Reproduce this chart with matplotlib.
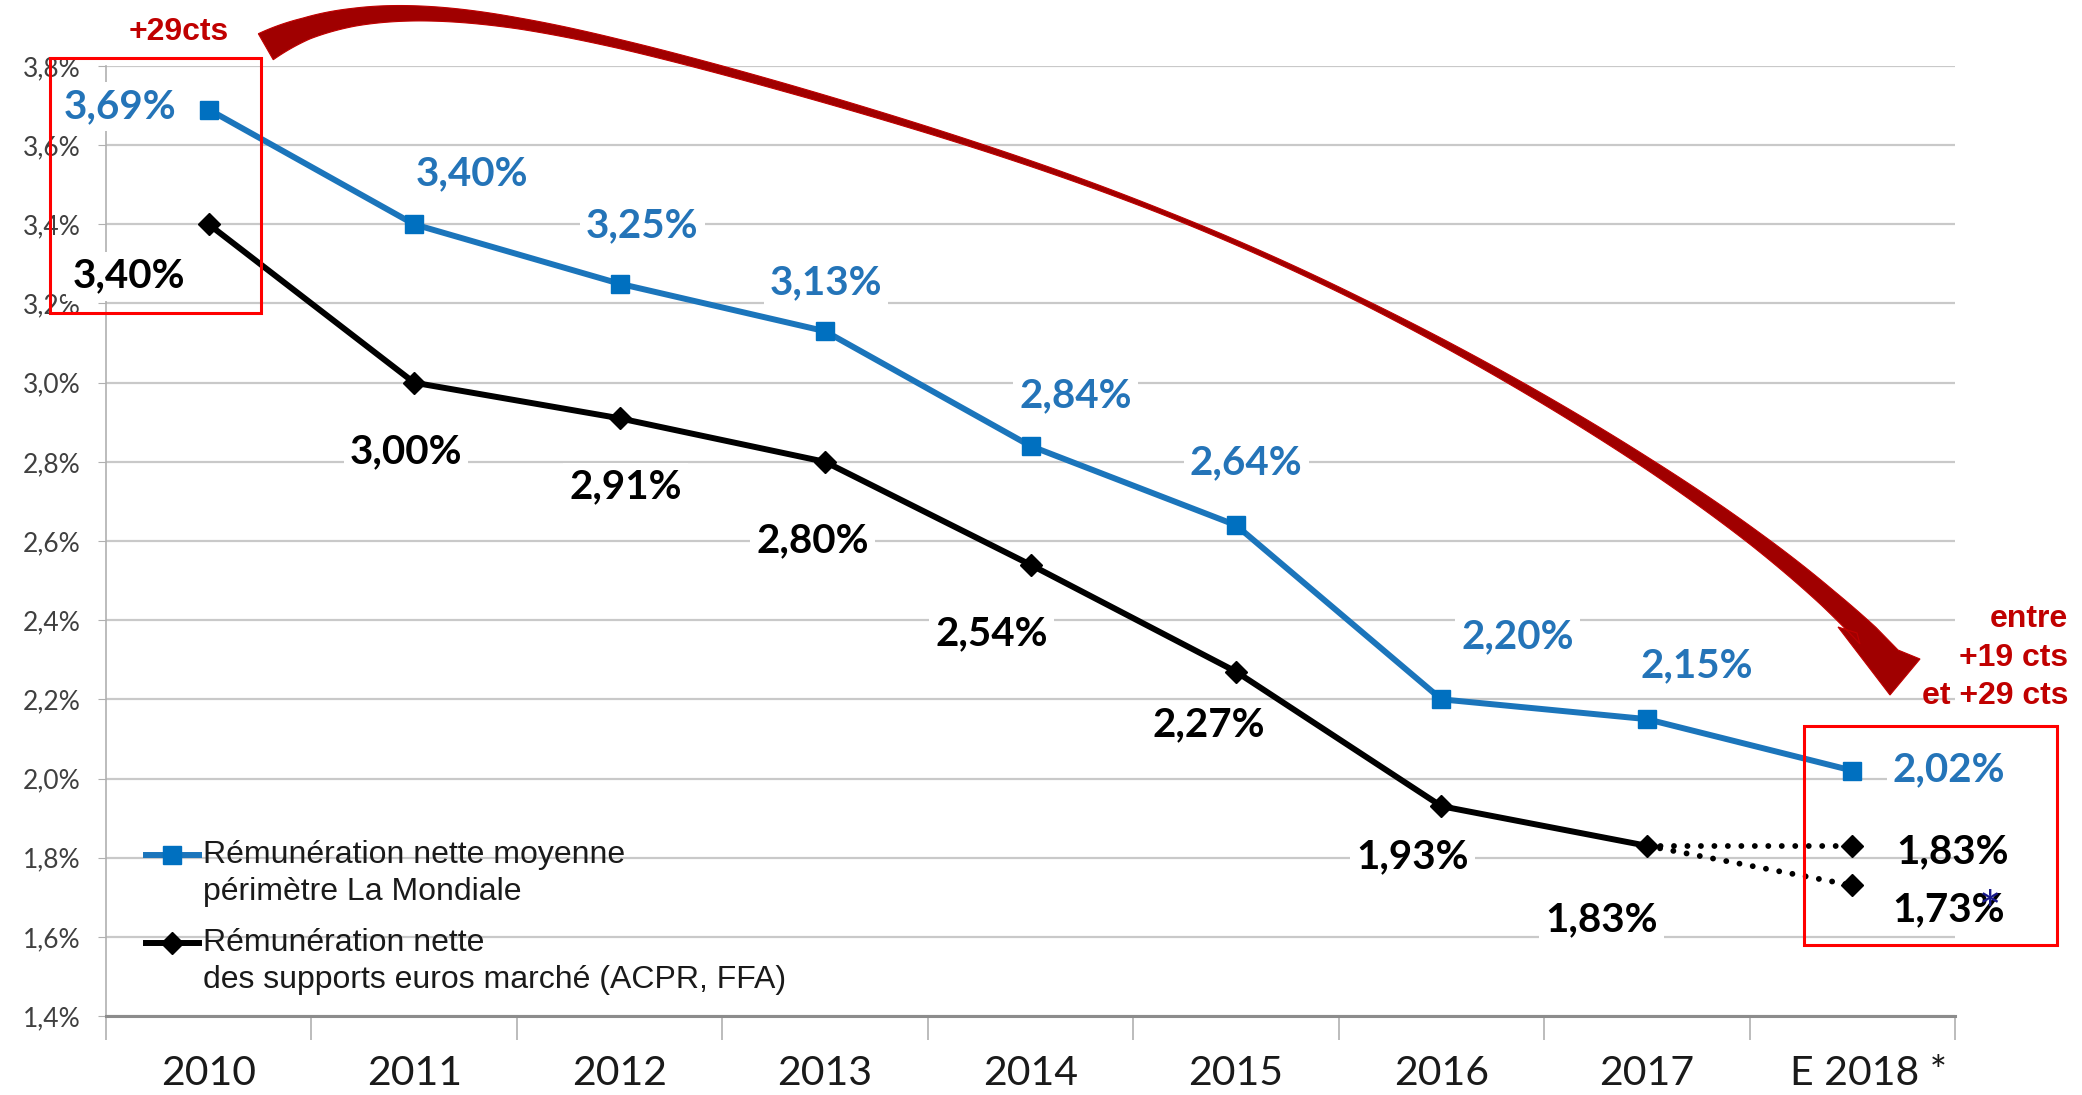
import numpy as np
import matplotlib
matplotlib.use("Agg")
import matplotlib.pyplot as plt
from matplotlib.transforms import Affine2D, ScaledTranslation
from matplotlib.patches import Polygon, Rectangle
from matplotlib.lines import Line2D

# ---------------- data ----------------
categories = ["2010", "2011", "2012", "2013", "2014", "2015", "2016", "2017", "E 2018 *"]
la_mondiale = [3.69, 3.40, 3.25, 3.13, 2.84, 2.64, 2.20, 2.15, 2.02]
marche = [3.40, 3.00, 2.91, 2.80, 2.54, 2.27, 1.93, 1.83]
marche_2018_scenarios = [1.83, 1.73]
y_ticks = [1.4, 1.6, 1.8, 2.0, 2.2, 2.4, 2.6, 2.8, 3.0, 3.2, 3.4, 3.6, 3.8]
y_tick_labels = ["1,4%", "1,6%", "1,8%", "2,0%", "2,2%", "2,4%", "2,6%",
                 "2,8%", "3,0%", "3,2%", "3,4%", "3,6%", "3,8%"]
legend_labels = ["Rémunération nette moyenne\npérimètre La Mondiale",
                 "Rémunération nette\ndes supports euros marché (ACPR, FFA)"]
callout_left = "+29cts"
callout_right = ["entre", "+19 cts", "et +29 cts"]

# ---------------- layout (label offsets in data units) ----------------
blue_label_off = [(-0.43, 0.008), (0.28, 0.127), (0.11, 0.147), (0.005, 0.122),
                  (0.22, 0.127), (0.05, 0.159), (0.37, 0.157), (0.245, 0.136),
                  (0.47, 0.001)]
black_label_off = [(-0.39, -0.131), (-0.04, -0.174), (0.03, -0.174), (-0.06, -0.199),
                   (-0.19, -0.174), (-0.13, -0.135), (-0.14, -0.127), (-0.22, -0.188)]
scen_label_off = [(0.49, -0.014), (0.47, -0.061)]

# arrow decoration (figure pixels from top-left): traced centre line + band width
arrow_center = [(268, 51), (303, 23), (353, 15), (420, 16), (520, 25), (620, 46),
                (783, 84), (974, 145), (1165, 213), (1362, 303), (1515, 382),
                (1648, 462), (1756, 540), (1827, 600), (1868, 634)]
arrow_width = [30, 22, 18, 15, 11, 9, 8, 6, 4.5, 5, 8, 11, 15, 19, 23]
arrow_head = [(1898, 650), (1920, 659), (1890, 695), (1838, 627), (1857, 633)]

BLUE_LINE = "#1b75bb"
BLUE_MARK = "#0070c0"
BLUE_TEXT = "#2474b8"
DARK_RED = "#c00000"

W, H = 2082, 1095
fig = plt.figure(figsize=(W / 100, H / 100), dpi=100)
fig.patch.set_facecolor("white")
ax = fig.add_axes([106 / W, 1 - 1016 / H, (1955 - 106) / W, (1016 - 66) / H])
T = Affine2D().scale(1 / W, -1 / H).translate(0, 1) + fig.transFigure

def fmt(v):
    return f"{v:.2f}".replace(".", ",") + "%"

x = np.arange(len(categories))
ax.set_xlim(-0.5, len(categories) - 0.5)
ax.set_ylim(y_ticks[0], y_ticks[-1])

# axes styling
ax.set_yticks(y_ticks)
ax.set_yticklabels(y_tick_labels)
ax.yaxis.grid(True, color="#c9c9c9", lw=1.6, zorder=0)
ax.set_axisbelow(True)
for s in ["top", "right"]:
    ax.spines[s].set_visible(False)
ax.spines["left"].set_color("#b0b0b0")
ax.spines["left"].set_linewidth(1.2)
ax.spines["bottom"].set_color("#8c8c8c")
ax.spines["bottom"].set_linewidth(2.2)
ax.tick_params(axis="y", length=6, color="#b0b0b0", pad=12, labelsize=19,
               labelcolor="#404040")
for t in ax.get_yticklabels():
    t.set_family("Lato")
ax.set_xticks(x)
ax.set_xticklabels(categories, fontsize=29.5, family="Lato", color="#1a1a1a")
ax.tick_params(axis="x", which="major", length=0, pad=28)
ax.set_xticks(np.arange(-0.5, len(categories), 1.0), minor=True)
ax.tick_params(axis="x", which="minor", length=17, color="#b0b0b0", width=1.2)
last = ax.get_xticklabels()[-1]
last.set_transform(last.get_transform() + ScaledTranslation(0.16, 0, fig.dpi_scale_trans))

# series
ax.plot(x, la_mondiale, color=BLUE_LINE, lw=4.3, marker="s", ms=13,
        mfc=BLUE_MARK, mec=BLUE_MARK, zorder=5)
ax.plot(x[:len(marche)], marche, color="black", lw=4.3, marker="D", ms=11, zorder=5)
for v in marche_2018_scenarios:
    ax.plot([x[len(marche) - 1], x[-1]], [marche[-1], v], color="black", lw=4.2,
            ls=(0, (0.01, 2.3)), dash_capstyle="round", zorder=4)
    ax.plot([x[-1]], [v], color="black", marker="D", ms=11, zorder=5)

box = dict(boxstyle="square,pad=0.15", fc="white", ec="none")
LABEL_FS = 29
for i, v in enumerate(la_mondiale):
    dx, dy = blue_label_off[i]
    ax.text(x[i] + dx, v + dy, fmt(v), ha="center", va="center", fontsize=LABEL_FS,
            fontweight="bold", family="Lato", color=BLUE_TEXT, bbox=box, zorder=3)
for i, v in enumerate(marche):
    dx, dy = black_label_off[i]
    ax.text(x[i] + dx, v + dy, fmt(v), ha="center", va="center", fontsize=LABEL_FS,
            fontweight="bold", family="Lato", color="black", bbox=box, zorder=3)
for j, v in enumerate(marche_2018_scenarios):
    dx, dy = scen_label_off[j]
    ax.text(x[-1] + dx, v + dy, fmt(v), ha="center", va="center", fontsize=LABEL_FS,
            fontweight="bold", family="Lato", color="black", zorder=3)
fig.text(1990, 929, "*", transform=T, ha="center", va="baseline", fontsize=38,
         color="#1a1a8c", family="Lato", zorder=6)

# legend (drawn manually: marker at first line)
leg_rows = [(855, 37, BLUE_LINE, "s", BLUE_MARK, 13), (943, 37, "black", "D", "black", 11)]
for (yy, step, col, mk, mcol, ms), lab in zip(leg_rows, legend_labels):
    fig.add_artist(Line2D([146, 199], [yy, yy], transform=T, color=col, lw=4.3))
    fig.add_artist(Line2D([172], [yy], transform=T, color=col, marker=mk, ms=ms,
                          mfc=mcol, mec=mcol))
    for k, line in enumerate(lab.split("\n")):
        fig.text(203, yy + k * step, line, transform=T, ha="left", va="center",
                 fontsize=23, family="Liberation Sans", color="#1a1a1a")

# red boxes
fig.add_artist(Rectangle((50, 58), 211, 255, transform=T, fill=False, ec="#ff0000", lw=2.2))
fig.add_artist(Rectangle((1804, 726), 253, 219, transform=T, fill=False, ec="#ff0000", lw=2.2))

# callouts
fig.text(179, 32, callout_left, transform=T, ha="center", va="center", fontsize=23,
         fontweight="bold", color=DARK_RED, family="Liberation Sans")
for k, line in enumerate(callout_right):
    fig.text(2068, 619 + k * 38.5, line, transform=T, ha="right", va="center",
             fontsize=23, fontweight="bold", color=DARK_RED, family="Liberation Sans")

# big curved arrow: smooth centre line with a varying band width
pts = np.asarray(arrow_center, float)
seg = np.hypot(*np.diff(pts, axis=0).T)
s = np.concatenate([[0.0], np.cumsum(seg)])
s /= s[-1]
px = np.polyfit(s, pts[:, 0], 6)
py = np.polyfit(s, pts[:, 1], 6)
ss = np.linspace(0, 1, 500)
X, Y = np.polyval(px, ss), np.polyval(py, ss)
dX, dY = np.polyval(np.polyder(px), ss), np.polyval(np.polyder(py), ss)
nn = np.hypot(dX, dY)
tx, ty = dX / nn, dY / nn
wd = np.interp(ss, s, arrow_width) / 2
outer = np.column_stack([X + ty * wd, Y - tx * wd])
inner = np.column_stack([X - ty * wd, Y + tx * wd])
poly = np.vstack([outer, np.asarray(arrow_head, float), inner[::-1]])
fig.add_artist(Polygon(poly, closed=True, transform=T, fc="#a00000", ec=DARK_RED,
                       lw=0.8, zorder=7))

fig.savefig("out.png", dpi=100)
